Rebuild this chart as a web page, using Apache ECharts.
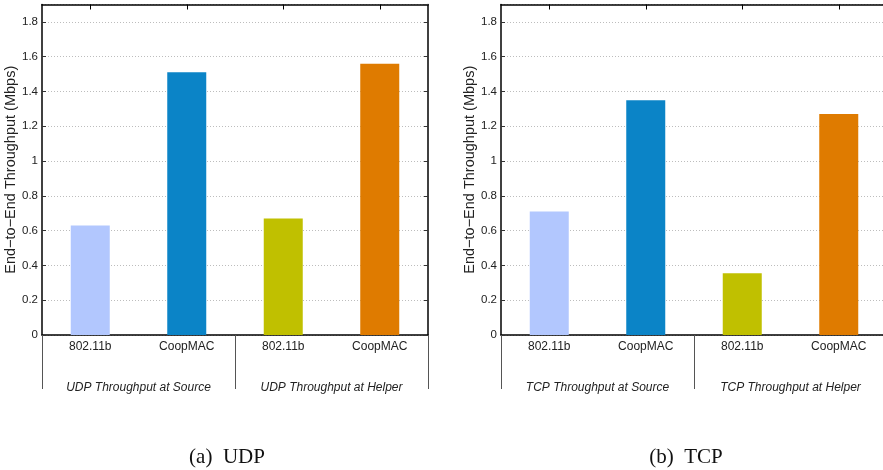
<!DOCTYPE html>
<html>
<head>
<meta charset="utf-8">
<script src="https://cdn.jsdelivr.net/npm/echarts@6/dist/echarts.min.js"></script>
<style>
    html, body { margin: 0; padding: 0; background: #fff; }
    #chart { width: 883px; height: 470px; }
</style>
</head>
<body>
<div id="chart"></div>
<script>
// 数据
var categories = ['802.11b', 'CoopMAC', '802.11b', 'CoopMAC'];
var udpGroups = ['UDP Throughput at Source', 'UDP Throughput at Helper'];
var tcpGroups = ['TCP Throughput at Source', 'TCP Throughput at Helper'];
var udpValues = [0.63, 1.51, 0.67, 1.56];
var tcpValues = [0.71, 1.35, 0.355, 1.27];
var barColors = ['#b2c7fe', '#0b84c7', '#c0c000', '#df7b00'];
var yName = 'End\u2212to\u2212End Throughput (Mbps)';
var captions = ['(a)  UDP', '(b)  TCP'];

var FONT = "'Liberation Sans', Arial, sans-serif";
var frameLine = { show: true, lineStyle: { color: '#000', width: 1.5 } };

/* 每个子图的坐标轴 */
var makeXAxes = function (gridIndex, groups) {
    return [
        {
            gridIndex: gridIndex, type: 'category', position: 'bottom',
            data: categories,
            axisLine: frameLine,
            axisTick: { show: false },
            axisLabel: { fontFamily: FONT, fontSize: 12, color: '#222', margin: 6 }
        },
        {
            gridIndex: gridIndex, type: 'category', position: 'bottom',
            data: groups,
            axisLine: { show: false },
            axisTick: { show: true, length: 54, interval: 0, lineStyle: { color: '#555', width: 1 } },
            axisLabel: { fontFamily: FONT, fontSize: 12, fontStyle: 'italic', color: '#222', margin: 47, interval: 0 }
        },
        {
            gridIndex: gridIndex, type: 'category', position: 'top',
            data: categories,
            axisLine: frameLine,
            axisTick: { show: true, inside: true, alignWithLabel: true, length: 5, lineStyle: { color: '#000' } },
            axisLabel: { show: false }
        }
    ];
};
var makeYAxes = function (gridIndex) {
    return [
        {
            gridIndex: gridIndex, type: 'value', position: 'left',
            min: 0, max: 1.9, interval: 0.2,
            name: yName, nameLocation: 'middle', nameGap: 22,
            nameTextStyle: { fontFamily: FONT, fontSize: 14.5, color: '#222' },
            axisLine: frameLine,
            axisTick: { show: true, inside: true, length: 4, lineStyle: { color: '#333' } },
            axisLabel: { fontFamily: FONT, fontSize: 11.5, color: '#222', margin: 4, showMaxLabel: false },
            splitLine: { show: true, lineStyle: { color: '#bdbdbd', type: [1, 2], width: 1 } }
        },
        {
            gridIndex: gridIndex, type: 'value', position: 'right',
            min: 0, max: 1.9, interval: 0.2,
            axisLine: frameLine,
            axisTick: { show: true, inside: true, length: 4, lineStyle: { color: '#333' } },
            axisLabel: { show: false },
            splitLine: { show: false }
        }
    ];
};
var makeSeries = function (xIndex, yIndex, values) {
    return {
        type: 'bar', xAxisIndex: xIndex, yAxisIndex: yIndex,
        barWidth: 39,
        data: values.map(function (v, i) {
            return { value: v, itemStyle: { color: barColors[i] } };
        })
    };
};

var myChart = echarts.init(document.getElementById('chart'), null, { renderer: 'canvas' });
myChart.setOption({
    animation: false,
    backgroundColor: '#fff',
    title: [
        { text: captions[0], left: 222, top: 442, textAlign: 'center',
          textStyle: { fontFamily: "'Liberation Serif', 'Times New Roman', serif", fontSize: 21, fontWeight: 'normal', color: '#111' } },
        { text: captions[1], left: 681, top: 442, textAlign: 'center',
          textStyle: { fontFamily: "'Liberation Serif', 'Times New Roman', serif", fontSize: 21, fontWeight: 'normal', color: '#111' } }
    ],
    grid: [
        { left: 42, top: 4.5, width: 386, height: 330.5, containLabel: false, outerBoundsMode: 'none' },
        { left: 501, top: 4.5, width: 386, height: 330.5, containLabel: false, outerBoundsMode: 'none' }
    ],
    xAxis: makeXAxes(0, udpGroups).concat(makeXAxes(1, tcpGroups)),
    yAxis: makeYAxes(0).concat(makeYAxes(1)),
    series: [
        makeSeries(0, 0, udpValues),
        makeSeries(3, 2, tcpValues)
    ]
});
</script>
</body>
</html>
